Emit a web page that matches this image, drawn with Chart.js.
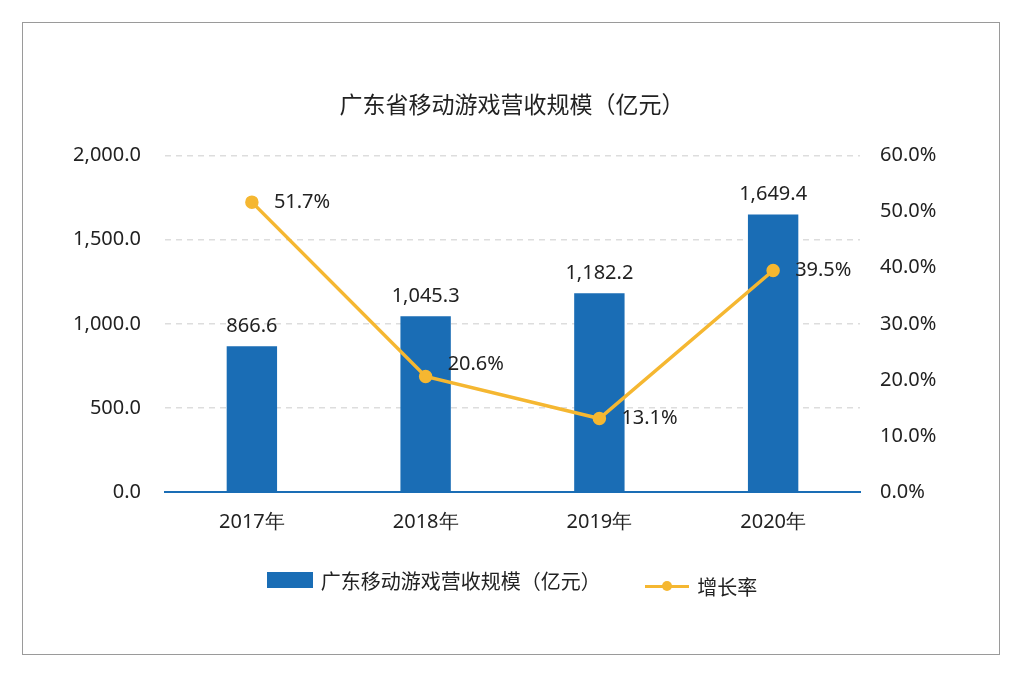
<!DOCTYPE html>
<html>
<head>
<meta charset="utf-8">
<script src="https://cdn.jsdelivr.net/npm/chart.js@4"></script>
<style>
  html, body { margin: 0; padding: 0; background: #fff; }
  body { width: 1024px; height: 678px; position: relative; overflow: hidden;
         font-family: "Noto Sans CJK SC", "Noto Sans", sans-serif; }
  #frame { position: absolute; left: 22px; top: 22px; width: 976px; height: 631px; border: 1px solid #9a9a9a; }
  #wrap { position: absolute; left: 0; top: 0; width: 1024px; height: 678px; }
  #legend { position: absolute; top: 565px; left: 0; width: 1024px; text-align: center; font-size: 20px; color: #222; }
  #legend span.item { display: inline-flex; align-items: center; margin: 0 20px; }
  .barKey { display: inline-block; width: 46px; height: 16px; background: #1a6db5; margin-right: 8px; }
  .lineKey { display: inline-block; width: 44px; height: 3px; background: #f5b731; margin-right: 8px; position: relative; }
  .lineKey::after { content: ""; position: absolute; left: 17px; top: -4px; width: 10px; height: 10px; border-radius: 50%; background: #f5b731; }
</style>
</head>
<body>
<div id="frame"></div>
<div id="wrap"><canvas id="chart" width="1024" height="678"></canvas></div>
<div id="legend">
  <span class="item"><span class="barKey"></span>广东移动游戏营收规模（亿元）</span>
  <span class="item"><span class="lineKey"></span>增长率</span>
</div>
<script>
const years = ["2017年", "2018年", "2019年", "2020年"];
const revenue = [866.6, 1045.3, 1182.2, 1649.4];
const growth = [51.7, 20.6, 13.1, 39.5];

const fmt1 = v => v.toLocaleString("en-US", { minimumFractionDigits: 1, maximumFractionDigits: 1 });

const labelPlugin = {
  id: "valueLabels",
  afterDatasetsDraw(chart) {
    const c = chart.ctx;
    c.save();
    c.font = '20px "Noto Sans", sans-serif';
    c.fillStyle = "#222";
    chart.getDatasetMeta(0).data.forEach((bar, i) => {
      c.textAlign = "center";
      c.textBaseline = "bottom";
      c.fillText(fmt1(revenue[i]), bar.x, bar.y - 10);
    });
    chart.getDatasetMeta(1).data.forEach((pt, i) => {
      c.textAlign = "left";
      c.textBaseline = "middle";
      c.fillText(growth[i].toFixed(1) + "%", pt.x + 22, pt.y + (i === 1 ? -12 : 0));
    });
    c.restore();
  }
};

const tickFont = { size: 20, family: '"Noto Sans", sans-serif' };

new Chart(document.getElementById("chart"), {
  data: {
    labels: years,
    datasets: [
      {
        type: "bar",
        label: "广东移动游戏营收规模（亿元）",
        data: revenue,
        backgroundColor: "#1a6db5",
        barPercentage: 0.29,
        categoryPercentage: 1,
        yAxisID: "y",
        order: 2
      },
      {
        type: "line",
        label: "增长率",
        data: growth,
        borderColor: "#f5b731",
        backgroundColor: "#f5b731",
        borderWidth: 3.5,
        pointRadius: 5,
        pointBackgroundColor: "#f5b731",
        tension: 0,
        yAxisID: "y1",
        order: 1
      }
    ]
  },
  options: {
    responsive: false,
    animation: false,
    layout: { padding: { top: 0, bottom: 126, left: 0, right: 0 } },
    plugins: {
      legend: { display: false },
      tooltip: { enabled: false },
      title: {
        display: true,
        text: "广东省移动游戏营收规模（亿元）",
        color: "#222",
        font: { size: 23, weight: "normal", family: '"Noto Sans CJK SC", sans-serif' },
        padding: { top: 90, bottom: 38 }
      }
    },
    scales: {
      x: {
        grid: { display: false, drawTicks: false },
        border: { color: "#1a6db5", width: 2 },
        ticks: { color: "#222", font: tickFont, padding: 18 }
      },
      y: {
        position: "left",
        min: 0, max: 2000,
        ticks: { stepSize: 500, color: "#222", font: tickFont, padding: 24, callback: v => fmt1(v) },
        grid: { color: "#dddddd", lineWidth: 1.5, drawTicks: false },
        border: { display: false, dash: [6, 5] },
        afterFit(s) { s.width = 165; }
      },
      y1: {
        position: "right",
        min: 0, max: 60,
        ticks: { stepSize: 10, color: "#222", font: tickFont, padding: 20, callback: v => v.toFixed(1) + "%" },
        grid: { display: false, drawTicks: false },
        border: { display: false },
        afterFit(s) { s.width = 164; }
      }
    }
  },
  plugins: [labelPlugin]
});
</script>
</body>
</html>
